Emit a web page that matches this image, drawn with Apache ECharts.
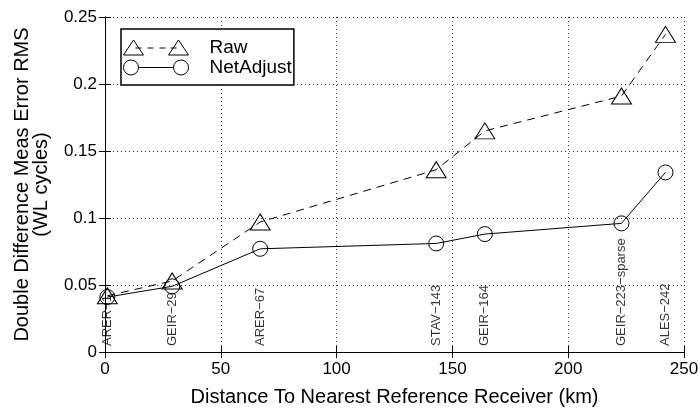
<!DOCTYPE html>
<html>
<head>
<meta charset="utf-8">
<script src="https://cdn.jsdelivr.net/npm/echarts@6/dist/echarts.min.js"></script>
<style>
  html, body { margin: 0; padding: 0; background: #fff; }
  #main { width: 700px; height: 409px; }
</style>
</head>
<body>
<div id="main"></div>
<script>
// station data (distance to nearest reference receiver, km)
var stations = ['ARER\u22121', 'GEIR\u221229', 'ARER\u221267', 'STAV\u2212143', 'GEIR\u2212164', 'GEIR\u2212223\u2212sparse', 'ALES\u2212242'];
var distances = [1, 29, 67, 143, 164, 223, 242];
var rawRms = [0.042, 0.053, 0.097, 0.136, 0.165, 0.191, 0.237];
var netAdjustRms = [0.041, 0.049, 0.077, 0.081, 0.088, 0.096, 0.134];
var xTicks = { min: 0, max: 250, interval: 50 };
var yTicks = { min: 0, max: 0.25, interval: 0.05 };

var FONT = "'Liberation Sans', Arial, Helvetica, sans-serif";

// legend icons: marker - line - marker
var rawIcon = 'path://M0 15 L10 0 L20 15 Z M45 15 L55 0 L65 15 Z ' +
    'M12 8 L18 8 M24 8 L30 8 M36 8 L42 8 M47 8 L53 8';
var netIcon = 'path://M0 7.5 A7.5 7.5 0 1 1 15 7.5 A7.5 7.5 0 1 1 0 7.5 Z ' +
    'M50 7.5 A7.5 7.5 0 1 1 65 7.5 A7.5 7.5 0 1 1 50 7.5 Z M15 7.5 L50 7.5';

function pairs(xs, ys) {
    return xs.map(function (x, i) { return [x, ys[i]]; });
}

var myChart = echarts.init(document.getElementById('main'));

var option = {
    animation: false,
    backgroundColor: '#fff',
    textStyle: { fontFamily: FONT, color: '#000' },
    grid: { left: 105, right: 16, top: 17, bottom: 57, outerBoundsMode: 'none', containLabel: false },
    legend: {
        orient: 'vertical',
        left: 121,
        top: 29,
        padding: [9, 2, 8, 2],
        itemWidth: 65,
        itemHeight: 15,
        itemGap: 1,
        backgroundColor: '#fff',
        borderColor: '#000',
        borderWidth: 1.5,
        selectedMode: false,
        itemStyle: { color: 'transparent', borderColor: '#000', borderWidth: 1 },
        textStyle: { fontSize: 19, lineHeight: 17, color: '#000', fontFamily: FONT, padding: [0, 0, 0, 16] },
        data: [
            { name: 'Raw', icon: rawIcon },
            { name: 'NetAdjust', icon: netIcon }
        ]
    },
    xAxis: [{
        type: 'value',
        min: xTicks.min, max: xTicks.max, interval: xTicks.interval,
        name: 'Distance To Nearest Reference Receiver (km)',
        nameLocation: 'middle',
        nameGap: 35,
        nameTextStyle: { fontSize: 20, color: '#000', fontFamily: FONT },
        axisLine: { show: true, lineStyle: { color: '#000', width: 1 } },
        axisTick: { show: true, inside: true, length: 6, lineStyle: { color: '#000' } },
        axisLabel: { fontSize: 17, color: '#000', margin: 9, fontFamily: FONT },
        splitLine: { show: true, lineStyle: { color: '#333', type: [1, 3], width: 1 } }
    }, {
        type: 'value',
        position: 'top',
        min: xTicks.min, max: xTicks.max, interval: xTicks.interval,
        axisLine: { show: true, lineStyle: { color: '#000', width: 1 } },
        axisTick: { show: true, inside: true, length: 6, lineStyle: { color: '#000' } },
        axisLabel: { show: false },
        splitLine: { show: false }
    }],
    yAxis: [{
        type: 'value',
        min: yTicks.min, max: yTicks.max, interval: yTicks.interval,
        name: 'Double Difference Meas Error RMS\n(WL cycles)',
        nameLocation: 'middle',
        nameGap: 54,
        nameTextStyle: { fontSize: 20, color: '#000', fontFamily: FONT, lineHeight: 19 },
        axisLine: { show: true, lineStyle: { color: '#000', width: 1 } },
        axisTick: { show: true, inside: true, length: 6, lineStyle: { color: '#000' } },
        axisLabel: { fontSize: 17, color: '#000', margin: 8, fontFamily: FONT },
        splitLine: { show: true, lineStyle: { color: '#333', type: [1, 3], width: 1 } }
    }, {
        type: 'value',
        position: 'right',
        min: yTicks.min, max: yTicks.max, interval: yTicks.interval,
        axisLine: { show: true, lineStyle: { color: '#000', width: 1 } },
        axisTick: { show: true, inside: true, length: 6, lineStyle: { color: '#000' } },
        axisLabel: { show: false },
        splitLine: { show: false }
    }],
    series: [{
        name: 'stations',
        type: 'scatter',
        symbolSize: 0,
        silent: true,
        data: distances.map(function (d, i) { return { value: [d, 0], name: stations[i] }; }),
        label: {
            show: true,
            formatter: '{b}',
            position: 'top',
            distance: 6,
            rotate: 90,
            align: 'left',
            verticalAlign: 'middle',
            fontSize: 13,
            color: '#000',
            fontFamily: FONT
        }
    }, {
        name: 'Raw',
        type: 'line',
        data: pairs(distances, rawRms),
        symbol: 'triangle',
        symbolSize: [20, 16],
        showAllSymbol: true,
        itemStyle: { color: 'transparent', borderColor: '#000', borderWidth: 1 },
        lineStyle: { color: '#000', width: 1, type: [8, 6] },
        z: 3
    }, {
        name: 'NetAdjust',
        type: 'line',
        data: pairs(distances, netAdjustRms),
        symbol: 'circle',
        symbolSize: 15,
        showAllSymbol: true,
        itemStyle: { color: 'transparent', borderColor: '#000', borderWidth: 1 },
        lineStyle: { color: '#000', width: 1, type: 'solid' },
        z: 3
    }]
};

myChart.setOption(option);
window.addEventListener('resize', function () {
    myChart.resize();
});
</script>
</body>
</html>
